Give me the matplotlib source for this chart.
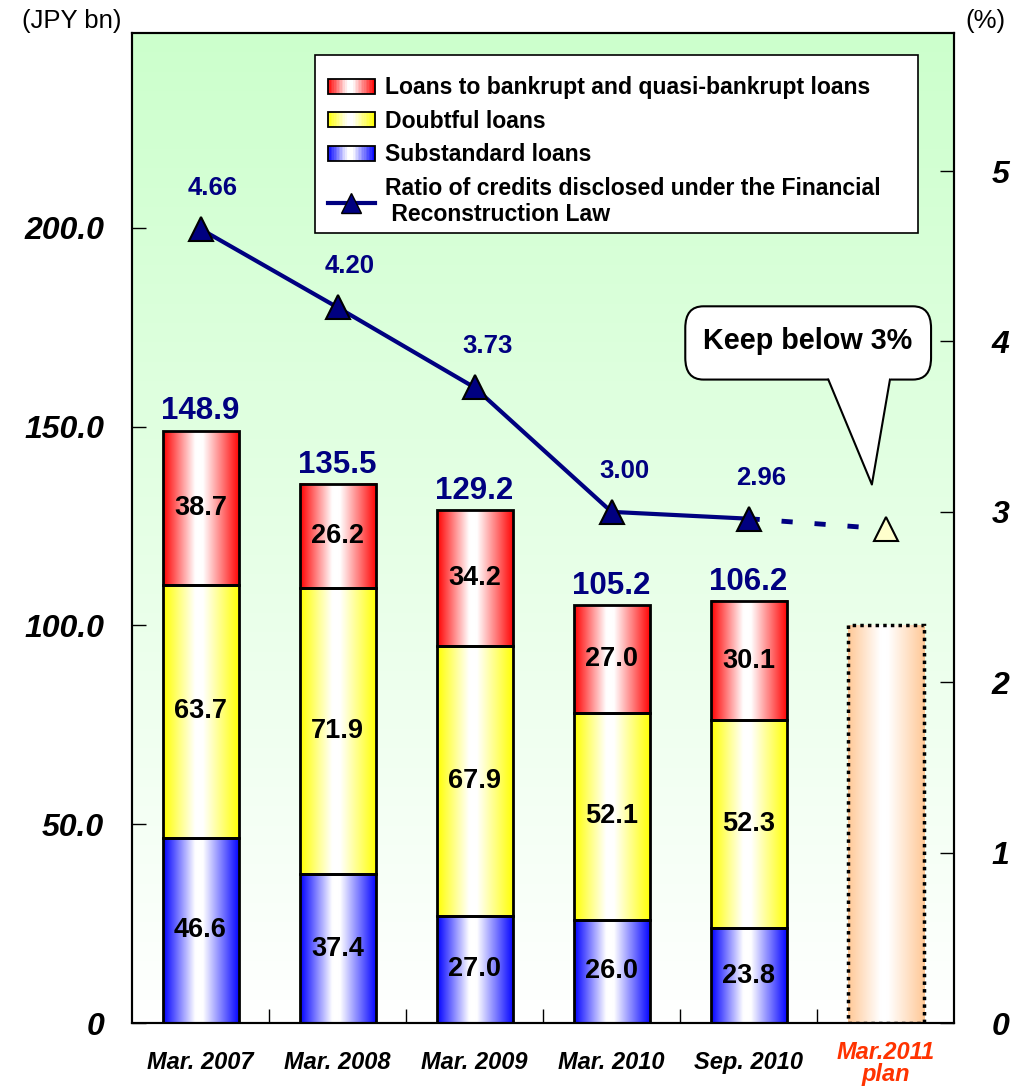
import numpy as np
import matplotlib
matplotlib.use("Agg")
import matplotlib.pyplot as plt
from matplotlib.colors import LinearSegmentedColormap
from matplotlib.patches import Rectangle, Patch, FancyBboxPatch, Polygon
from matplotlib.lines import Line2D
from matplotlib.legend_handler import HandlerBase
from matplotlib.transforms import ScaledTranslation

plt.rcParams["font.family"] = ["Liberation Sans", "DejaVu Sans"]

# credits disclosed under the Financial Reconstruction Law (JPY bn)
periods = ["Mar. 2007", "Mar. 2008", "Mar. 2009", "Mar. 2010", "Sep. 2010", "Mar.2011\nplan"]
substandard = [46.6, 37.4, 27.0, 26.0, 23.8]
doubtful = [63.7, 71.9, 67.9, 52.1, 52.3]
bankrupt = [38.7, 26.2, 34.2, 27.0, 30.1]
totals = [148.9, 135.5, 129.2, 105.2, 106.2]
ratio = [4.66, 4.20, 3.73, 3.00, 2.96]
plan_total = 100.0
plan_ratio = 2.9

NAVY = "#000080"


def edge_cmap(color):
    return LinearSegmentedColormap.from_list(
        "g", [(0, color), (0.42, "white"), (0.52, "white"), (1, color)])


cm_red = edge_cmap("#ff0000")
cm_yel = edge_cmap("#ffff00")
cm_blu = edge_cmap("#0000ff")
cm_plan = edge_cmap("#ffc896")

grad = np.linspace(0, 1, 256).reshape(1, -1)


def fill_gradient(ax, bars, cmap):
    for b in bars:
        x0, y0 = b.get_x(), b.get_y()
        ax.imshow(grad, cmap=cmap, aspect="auto", interpolation="bicubic",
                  extent=(x0, x0 + b.get_width(), y0, y0 + b.get_height()),
                  zorder=1.5)


class GradientHandler(HandlerBase):
    def __init__(self, cmap):
        super().__init__()
        self.cmap = cmap

    def create_artists(self, legend, orig_handle, xdescent, ydescent,
                       width, height, fontsize, trans):
        n = 30
        arts = []
        for i in range(n):
            arts.append(Rectangle((-xdescent + i * width / n, -ydescent),
                                  width / n * 1.05, height,
                                  facecolor=self.cmap((i + 0.5) / n),
                                  edgecolor="none", transform=trans))
        arts.append(Rectangle((-xdescent, -ydescent), width, height,
                              facecolor="none", edgecolor="black", lw=1.3,
                              transform=trans))
        return arts


fig = plt.figure(figsize=(10.26, 10.88), dpi=100)
ax = fig.add_axes([0.1287, 0.0597, 0.8012, 0.9099])

# background: pale green fading to white
bg = np.linspace(0, 1, 256).reshape(-1, 1)
cm_bg = LinearSegmentedColormap.from_list("bg", ["white", "#ccffcc"])
ax.imshow(bg, cmap=cm_bg, aspect="auto", origin="lower",
          extent=(0, 1, 0, 1), transform=ax.transAxes, zorder=0)

x = np.arange(len(totals))
w = 0.555
sub = np.array(substandard)
dbt = np.array(doubtful)
bk = np.array(bankrupt)

b1 = ax.bar(x, sub, w, facecolor="none", edgecolor="black", lw=2, zorder=2)
b2 = ax.bar(x, dbt, w, bottom=sub, facecolor="none", edgecolor="black", lw=2, zorder=2)
b3 = ax.bar(x, bk, w, bottom=sub + dbt, facecolor="none", edgecolor="black", lw=2, zorder=2)
fill_gradient(ax, b1, cm_blu)
fill_gradient(ax, b2, cm_yel)
fill_gradient(ax, b3, cm_red)

bp = ax.bar([len(totals)], [plan_total], w, facecolor="none", edgecolor="black",
            lw=2.5, linestyle=(0, (1, 1.2)), zorder=2)
fill_gradient(ax, bp, cm_plan)

# segment values
for bars, vals in ((b1, substandard), (b2, doubtful), (b3, bankrupt)):
    for b, v in zip(bars, vals):
        ax.text(b.get_x() + b.get_width() / 2, b.get_y() + b.get_height() / 2,
                f"{v:.1f}", ha="center", va="center", fontsize=19.5,
                fontweight="bold", color="black", zorder=3)

# totals above the stacks
for b, t in zip(b3, totals):
    ax.annotate(f"{t:.1f}", (b.get_x() + b.get_width() / 2, b.get_y() + b.get_height()),
                xytext=(0, 3), textcoords="offset points", ha="center", va="bottom",
                fontsize=22.5, fontweight="bold", color=NAVY, zorder=3)

ax.set_xlim(-0.5, len(periods) - 0.5)
ax.set_ylim(0, 249)
ax.set_yticks([0, 50, 100, 150, 200])
ax.set_yticklabels(["0", "50.0", "100.0", "150.0", "200.0"])
ax.tick_params(axis="y", direction="in", length=10, width=1, pad=20,
               labelsize=23)
for lab in ax.get_yticklabels():
    lab.set_fontweight("bold")
    lab.set_fontstyle("italic")

ax.set_xticks(x.tolist() + [len(totals)])
ax.set_xticklabels(periods)
ax.tick_params(axis="x", which="major", length=0, pad=20, labelsize=17)
ax.set_xticks(np.arange(0.5, len(periods) - 1, 1.0), minor=True)
ax.tick_params(axis="x", which="minor", direction="in", length=10, width=1)
for lab in ax.get_xticklabels():
    lab.set_fontweight("bold")
    lab.set_fontstyle("italic")
    lab.set_linespacing(0.95)
plan_lab = ax.get_xticklabels()[-1]
plan_lab.set_color("#ff3300")
plan_lab.set_transform(plan_lab.get_transform()
                       + ScaledTranslation(0, 7 / 72, fig.dpi_scale_trans))

for s in ax.spines.values():
    s.set_linewidth(1.5)

# ratio line on the right axis
ax2 = ax.twinx()
ax2.plot(x, ratio, color=NAVY, lw=3, marker="^", ms=17, mfc=NAVY,
         mec="black", mew=1.5, zorder=4)
ax2.plot([x[-1], len(totals)], [ratio[-1], plan_ratio], color=NAVY, lw=3.5,
         dashes=(2.3, 4.5), zorder=3)
ax2.plot([len(totals)], [plan_ratio], marker="^", ms=17, mfc="#ffffcc",
         mec="black", mew=1.5, ls="none", zorder=4)
for xi, r in zip(x, ratio):
    ax2.annotate(f"{r:.2f}", (xi, r), xytext=(9, 21), textcoords="offset points",
                 ha="center", va="bottom", fontsize=18.5, fontweight="bold",
                 color=NAVY)

ax2.set_ylim(0, 5.81)
ax2.set_yticks([0, 1, 2, 3, 4, 5])
ax2.tick_params(axis="y", direction="in", length=10, width=1, pad=27,
                labelsize=23)
for lab in ax2.get_yticklabels():
    lab.set_fontweight("bold")
    lab.set_fontstyle("italic")
for s in ax2.spines.values():
    s.set_linewidth(1.5)

# legend, with its own frame box
ax2.add_patch(Rectangle((0.2226, 0.798), 0.733, 0.180, facecolor="white",
                        edgecolor="black", lw=1.2, transform=ax2.transAxes,
                        zorder=5.5))
p_red, p_yel, p_blu = Patch(), Patch(), Patch()
line_h = Line2D([], [], color=NAVY, lw=3, marker="^", ms=15, mfc=NAVY, mec="black")
leg = ax2.legend([p_red, p_yel, p_blu, line_h],
                 ["Loans to bankrupt and quasi-bankrupt loans", "Doubtful loans",
                  "Substandard loans",
                  "Ratio of credits disclosed under the Financial\n Reconstruction Law"],
                 handler_map={p_red: GradientHandler(cm_red),
                              p_yel: GradientHandler(cm_yel),
                              p_blu: GradientHandler(cm_blu)},
                 loc="upper left", bbox_to_anchor=(0.217, 0.9737), borderaxespad=0,
                 frameon=False,
                 prop={"weight": "bold", "size": 16.6}, handlelength=2.05,
                 handleheight=0.62, handletextpad=0.45, labelspacing=0.45,
                 borderpad=0.75)
leg.set_zorder(6)

# callout bubble
tail = Polygon([(0.845, 0.655), (0.924, 0.655), (0.900, 0.544)], closed=True,
               facecolor="white", edgecolor="none", transform=ax2.transAxes,
               zorder=7)
bubble = FancyBboxPatch((0.673, 0.650), 0.299, 0.074,
                        boxstyle="round,pad=0,rounding_size=0.022",
                        facecolor="white", edgecolor="black", lw=1.5,
                        transform=ax2.transAxes, zorder=6)
ax2.add_patch(bubble)
ax2.add_patch(tail)
ax2.add_line(Line2D([0.847, 0.900, 0.922], [0.650, 0.544, 0.650], color="black",
                    lw=1.5, transform=ax2.transAxes, zorder=8))
ax2.text(0.822, 0.689, "Keep below 3%", transform=ax2.transAxes, ha="center",
         va="center", fontsize=20.7, fontweight="bold", zorder=9)

fig.text(0.070, 0.981, "(JPY bn)", ha="center", va="center", fontsize=18.5)
fig.text(0.960, 0.981, "(%)", ha="center", va="center", fontsize=18.5)

fig.savefig("out.png", dpi=100)
